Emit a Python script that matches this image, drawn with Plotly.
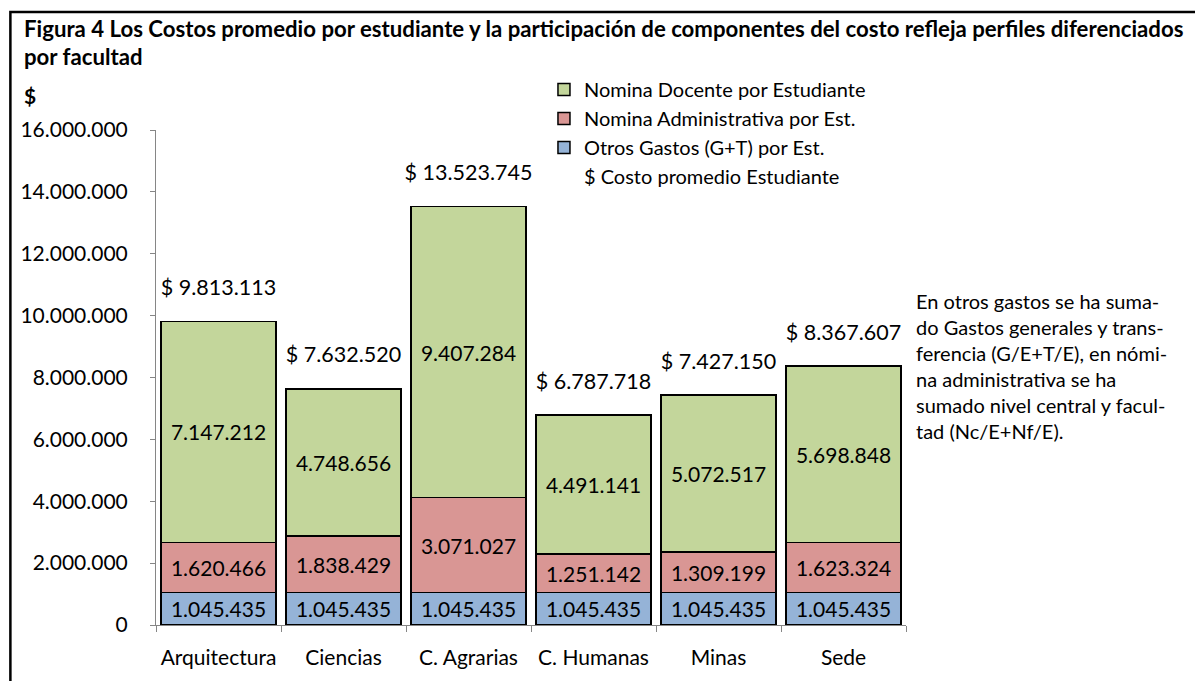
import plotly.graph_objects as go

categories = ["Arquitectura", "Ciencias", "C. Agrarias", "C. Humanas", "Minas", "Sede"]
otros_gastos = [1045435, 1045435, 1045435, 1045435, 1045435, 1045435]
nomina_admin = [1620466, 1838429, 3071027, 1251142, 1309199, 1623324]
nomina_docente = [7147212, 4748656, 9407284, 4491141, 5072517, 5698848]
costo_promedio = [9813113, 7632520, 13523745, 6787718, 7427150, 8367607]

series_names = ["Otros Gastos (G+T) por Est.", "Nomina Administrativa por Est.", "Nomina Docente por Estudiante"]
total_name = "$ Costo promedio Estudiante"
title_lines = [
    "Figura 4 Los Costos promedio por estudiante y la participación de componentes del costo refleja perfiles diferenciados",
    "por facultad",
]
note_lines = [
    "En otros gastos se ha suma-",
    "do Gastos generales y trans-",
    "ferencia (G/E+T/E), en nómi-",
    "na administrativa se ha",
    "sumado nivel central y facul-",
    "tad (Nc/E+Nf/E).",
]

FONT = "Lato, 'Open Sans', sans-serif"

# plot area (screen px of reference): y=0 at 625, 16M at 130; x from 154 to 906
PX_L, PX_R, PY_B, PY_T = 154, 906, 625, 130


def px2x(px):
    return (px - PX_L) / (PX_R - PX_L)


def py2y(py):
    return (PY_B - py) / (PY_B - PY_T)


def fmt(v):
    return f"{v:,}".replace(",", ".")


colors = ["#95B3D7", "#D99694", "#C3D69B"]
ranks = [3, 2, 1]
fig = go.Figure()
for name, vals, col, rk in zip(series_names, [otros_gastos, nomina_admin, nomina_docente], colors, ranks):
    fig.add_trace(go.Bar(
        x=categories, y=vals, name=name,
        marker=dict(color=col, line=dict(color="black", width=1.5)),
        text=[fmt(v) for v in vals], textposition="inside", insidetextanchor="middle",
        textfont=dict(size=21, color="black", family=FONT),
        constraintext="none", legendrank=rk, hoverinfo="skip",
    ))

fig.add_trace(go.Scatter(
    x=categories, y=costo_promedio, mode="markers+text",
    marker=dict(size=32, color="rgba(0,0,0,0)"),
    text=["$ " + fmt(v) for v in costo_promedio], textposition="top center",
    textfont=dict(size=21.5, color="black", family=FONT),
    showlegend=False, hoverinfo="skip", cliponaxis=False,
))
fig.add_trace(go.Scatter(
    x=[None], y=[None], mode="markers", name=total_name,
    marker=dict(size=10, color="rgba(0,0,0,0)"), legendrank=4,
))

# the page body adds an 8px offset, so figure margins are screen px minus 8
fig.update_layout(
    width=1203, height=681,
    margin=dict(l=PX_L - 8, r=1203 - (PX_R - 8), t=PY_T - 8, b=681 - (PY_B - 8)),
    paper_bgcolor="white", plot_bgcolor="white",
    barmode="stack", bargap=0.082,
    separators=",.",
    font=dict(family=FONT, size=21, color="black"),
    showlegend=True,
    legend=dict(x=px2x(543), y=py2y(70), xanchor="left", yanchor="top", traceorder="normal",
                bgcolor="rgba(0,0,0,0)", font=dict(size=20), tracegroupgap=0),
    xaxis=dict(showline=True, linecolor="#868686", linewidth=1, ticks="outside", tickson="boundaries",
               ticklen=6, tickcolor="#868686", showgrid=False, ticklabelstandoff=14,
               tickfont=dict(size=21)),
    yaxis=dict(range=[0, 16000000], dtick=2000000, tickformat=",.0f", showline=True,
               linecolor="#868686", linewidth=1, ticks="outside", ticklen=5, tickcolor="#868686",
               showgrid=False, zeroline=False, ticklabelstandoff=18, tickfont=dict(size=21)),
)

for line, py in zip(title_lines, [28, 57]):
    fig.add_annotation(text="<b>" + line + "</b>", xref="paper", yref="paper",
                       x=px2x(20), y=py2y(py), xanchor="left", yanchor="middle", showarrow=False,
                       font=dict(size=22.2))
fig.add_annotation(text="<b>$</b>", xref="paper", yref="paper", x=px2x(28), y=py2y(95),
                   xanchor="center", yanchor="middle", showarrow=False, font=dict(size=21))
fig.add_annotation(text="<br>".join(note_lines), xref="paper", yref="paper", x=px2x(914), y=py2y(366),
                   xanchor="left", yanchor="middle", align="left", showarrow=False,
                   font=dict(size=20))

fig.add_shape(type="rect", xref="paper", yref="paper", x0=px2x(8), x1=px2x(1199),
              y0=py2y(760), y1=py2y(12),
              line=dict(color="black", width=2.5), fillcolor="rgba(0,0,0,0)", layer="above")

fig.write_html("out.html")
